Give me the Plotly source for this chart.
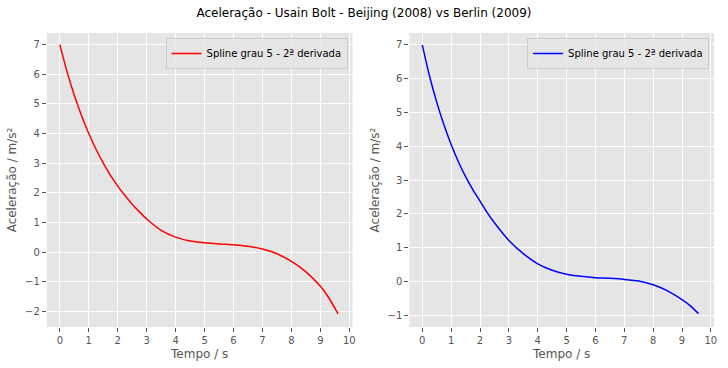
import plotly.graph_objects as go

# Beijing (2008) - 2nd derivative of degree-5 spline
t_beijing = [0.0, 0.25, 0.5, 0.75, 1.0, 1.25, 1.5, 1.75, 2.0, 2.25, 2.5, 2.75, 3.0, 3.5, 4.0, 4.5, 5.0, 5.5, 6.0, 6.5, 7.0, 7.5, 8.0, 8.5, 9.0, 9.3, 9.61]
a_beijing = [7.0, 6.08, 5.29, 4.6, 4.0, 3.47, 3.0, 2.59, 2.23, 1.91, 1.62, 1.36, 1.12, 0.74, 0.51, 0.38, 0.32, 0.28, 0.25, 0.2, 0.11, -0.05, -0.31, -0.66, -1.15, -1.55, -2.08]

# Berlin (2009)
t_berlin = [0.0, 0.25, 0.5, 0.75, 1.0, 1.25, 1.5, 1.75, 2.0, 2.25, 2.5, 2.75, 3.0, 3.5, 4.0, 4.5, 5.0, 5.5, 6.0, 6.5, 7.0, 7.5, 8.0, 8.5, 9.0, 9.3, 9.57]
a_berlin = [6.98, 6.07, 5.3, 4.63, 4.05, 3.54, 3.1, 2.72, 2.38, 2.04, 1.74, 1.47, 1.22, 0.83, 0.53, 0.34, 0.22, 0.16, 0.12, 0.1, 0.07, 0.02, -0.09, -0.27, -0.53, -0.72, -0.94]

x_ticks = list(range(0, 11))
y_ticks_left = [-2, -1, 0, 1, 2, 3, 4, 5, 6, 7]
y_ticks_right = [-1, 0, 1, 2, 3, 4, 5, 6, 7]

title = "Aceleração - Usain Bolt - Beijing (2008) vs Berlin (2009)"
label = "Spline grau 5 - 2ª derivada"
xlab = "Tempo / s"
ylab = "Aceleração / m/s²"

font = "DejaVu Sans"
fig = go.Figure()
fig.add_trace(go.Scatter(x=t_beijing, y=a_beijing, mode="lines",
                         line=dict(color="red", width=1.5, shape="spline", smoothing=0.6),
                         name=label, xaxis="x", yaxis="y", legend="legend"))
fig.add_trace(go.Scatter(x=t_berlin, y=a_berlin, mode="lines",
                         line=dict(color="blue", width=1.5, shape="spline", smoothing=0.6),
                         name=label, xaxis="x2", yaxis="y2", legend="legend2"))

ax_common = dict(showgrid=True, gridcolor="white", gridwidth=1, zeroline=False, showline=False,
                 ticks="outside", ticklen=4, tickcolor="#555555",
                 tickfont=dict(size=10, color="#555555", family=font),
                 title_font=dict(size=12, color="#555555", family=font))

W, H = 728, 368
legend_common = dict(xanchor="right", yanchor="top", bgcolor="rgba(229,229,229,0.8)",
                     bordercolor="#cccccc", borderwidth=1, itemwidth=30,
                     font=dict(size=10, color="black", family=font))
fig.update_layout(
    width=W, height=H, margin=dict(l=0, r=0, t=0, b=0),
    paper_bgcolor="white", plot_bgcolor="#E5E5E5",
    font=dict(family=font),
    title=dict(text=title, x=0.5, xanchor="center", y=1 - 13 / H, yanchor="middle",
               font=dict(size=12, color="black", family=font)),
    xaxis=dict(domain=[47 / W, 354 / W], range=[-0.45, 10.11], tickvals=x_ticks,
               title=dict(text=xlab, standoff=4), anchor="y", **ax_common),
    yaxis=dict(domain=[1 - 327 / H, 1 - 33 / H], range=[-2.52, 7.39], tickvals=y_ticks_left,
               title=dict(text=ylab, standoff=5), anchor="x", **ax_common),
    xaxis2=dict(domain=[411 / W, 717 / W], range=[-0.45, 10.11], tickvals=x_ticks,
                title=dict(text=xlab, standoff=4), anchor="y2", **ax_common),
    yaxis2=dict(domain=[1 - 327 / H, 1 - 33 / H], range=[-1.335, 7.34], tickvals=y_ticks_right,
                title=dict(text=ylab, standoff=5), anchor="x2", **ax_common),
    legend=dict(x=349 / W, y=1 - 38 / H, **legend_common),
    legend2=dict(x=712 / W, y=1 - 38 / H, **legend_common),
    showlegend=True,
)

fig.write_html("out.html", config={"displayModeBar": False},
               post_script="document.body.style.margin='0';document.body.style.overflow='hidden';")
